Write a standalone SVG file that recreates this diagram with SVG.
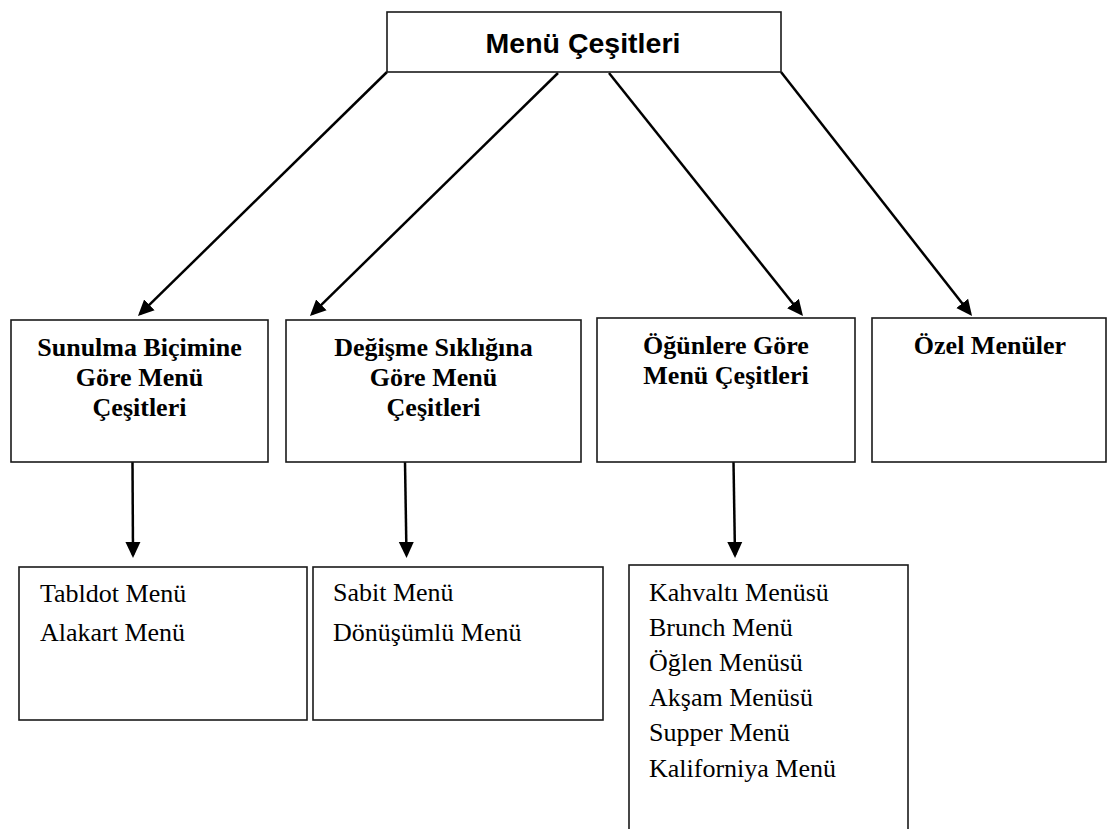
<svg xmlns="http://www.w3.org/2000/svg" width="1108" height="829" viewBox="0 0 1108 829">
<style>
.box{fill:#fff;stroke:#1a1a1a;stroke-width:1.6}
.title{font-family:"Liberation Sans",Arial,sans-serif;font-weight:bold;font-size:28.5px;fill:#000;text-anchor:middle}
.head{font-family:"Liberation Serif","Times New Roman",serif;font-weight:bold;font-size:26px;fill:#000;text-anchor:middle}
.item{font-family:"Liberation Serif","Times New Roman",serif;font-size:26px;fill:#000}
.conn{stroke:#000;stroke-width:2.5;fill:none;marker-end:url(#ah)}
</style>
<defs>
<marker id="ah" markerUnits="userSpaceOnUse" viewBox="0 0 16 16" refX="13" refY="8" markerWidth="16" markerHeight="16" orient="auto">
<path d="M0,0.5 L16,8 L0,15.5 Z" fill="#000"/>
</marker>
</defs>
<rect width="1108" height="829" fill="#fff"/>
<g id="connectors">
<line class="conn" x1="387" y1="72" x2="140.1" y2="313.9"/>
<line class="conn" x1="558" y1="73" x2="312.1" y2="313.9"/>
<line class="conn" x1="609" y1="73" x2="801.1" y2="313.7"/>
<line class="conn" x1="781" y1="72" x2="970.2" y2="313.6"/>
<line class="conn" x1="132.5" y1="462" x2="133" y2="555"/>
<line class="conn" x1="405" y1="462" x2="406.5" y2="555"/>
<line class="conn" x1="733.5" y1="462" x2="735" y2="555"/>
</g>
<g id="root">
<rect class="box" x="387" y="12" width="394" height="60"/>
<text class="title" x="583" y="53">Menü Çeşitleri</text>
</g>
<g id="sunulma">
<rect class="box" x="11" y="320" width="257" height="142"/>
<text class="head" x="139.5" y="356">Sunulma Biçimine</text>
<text class="head" x="139.5" y="386">Göre Menü</text>
<text class="head" x="139.5" y="416">Çeşitleri</text>
</g>
<g id="degisme">
<rect class="box" x="286" y="320" width="295" height="142"/>
<text class="head" x="433.5" y="356">Değişme Sıklığına</text>
<text class="head" x="433.5" y="386">Göre Menü</text>
<text class="head" x="433.5" y="416">Çeşitleri</text>
</g>
<g id="ogunlere">
<rect class="box" x="597" y="318" width="258" height="144"/>
<text class="head" x="726" y="354">Öğünlere Göre</text>
<text class="head" x="726" y="384">Menü Çeşitleri</text>
</g>
<g id="ozel">
<rect class="box" x="872" y="318" width="234" height="144"/>
<text class="head" x="990" y="354">Özel Menüler</text>
</g>
<g id="sunulma-list">
<rect class="box" x="19" y="567" width="288" height="153"/>
<text class="item" x="40" y="602">Tabldot Menü</text>
<text class="item" x="40" y="641">Alakart Menü</text>
</g>
<g id="degisme-list">
<rect class="box" x="313" y="567" width="290" height="153"/>
<text class="item" x="333" y="601">Sabit Menü</text>
<text class="item" x="333" y="641">Dönüşümlü Menü</text>
</g>
<g id="ogunlere-list">
<rect class="box" x="629" y="565" width="279" height="290"/>
<text class="item" x="649" y="601">Kahvaltı Menüsü</text>
<text class="item" x="649" y="636">Brunch Menü</text>
<text class="item" x="649" y="671">Öğlen Menüsü</text>
<text class="item" x="649" y="706">Akşam Menüsü</text>
<text class="item" x="649" y="741">Supper Menü</text>
<text class="item" x="649" y="777">Kaliforniya Menü</text>
</g>
</svg>
